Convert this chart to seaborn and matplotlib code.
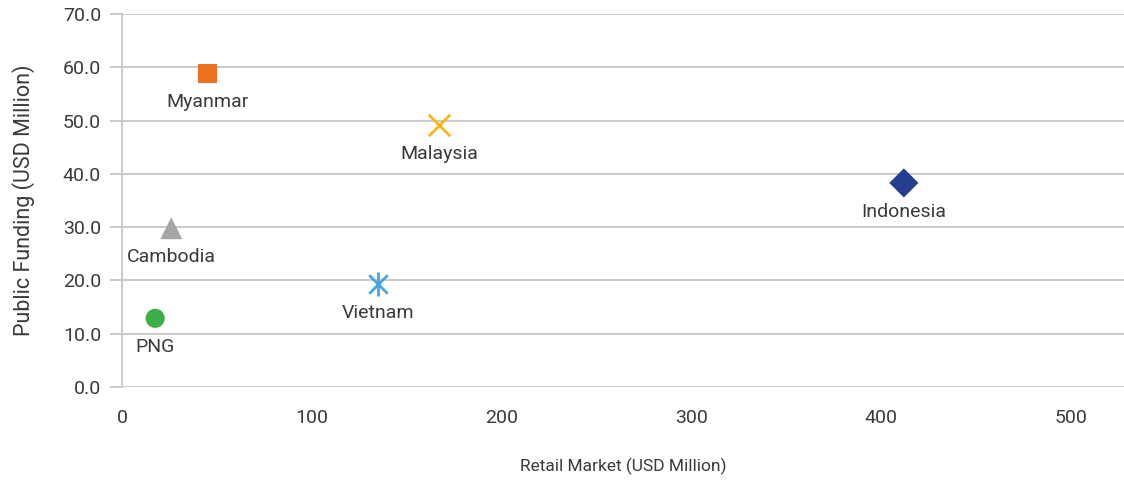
import matplotlib
matplotlib.use("Agg")
import matplotlib.pyplot as plt
from matplotlib.path import Path
import seaborn as sns
import pandas as pd

countries = ["Myanmar", "Malaysia", "Indonesia", "Cambodia", "Vietnam", "PNG"]
retail_market = [45, 167, 412, 26, 135, 17.5]
public_funding = [58.9, 49.2, 38.3, 29.8, 19.3, 12.9]
x_ticks = [0, 100, 200, 300, 400, 500]
y_ticks = [0, 10, 20, 30, 40, 50, 60, 70]

colors = {"Myanmar": "#F07022", "Malaysia": "#FDB515", "Indonesia": "#243F8F",
          "Cambodia": "#A6A6A6", "Vietnam": "#4BA3E0", "PNG": "#3CAE48"}
asterisk = Path([(-1, -1), (1, 1), (-1, 1), (1, -1), (0, -1.3), (0, 1.3)],
                [Path.MOVETO, Path.LINETO, Path.MOVETO, Path.LINETO, Path.MOVETO, Path.LINETO])
markers = {"Myanmar": "s", "Malaysia": "x", "Indonesia": "D",
           "Cambodia": "^", "Vietnam": asterisk, "PNG": "o"}
sizes = {"Myanmar": 190, "Malaysia": 240, "Indonesia": 220,
         "Cambodia": 250, "Vietnam": 300, "PNG": 190}

df = pd.DataFrame({"country": countries, "retail": retail_market, "funding": public_funding})

sns.set_theme(style="white")
plt.rcParams["font.family"] = ["Roboto", "DejaVu Sans"]

fig = plt.figure(figsize=(11.24, 4.82), dpi=100)
ax = fig.add_axes([0.1085, 0.197, 0.8915, 0.774])

for c in countries:
    sub = df[df.country == c]
    m = markers[c]
    lw = 2 if c in ("Malaysia", "Vietnam") else 0
    sns.scatterplot(data=sub, x="retail", y="funding", marker=m, s=sizes[c],
                    color=colors[c], edgecolor=colors[c] if lw else "none",
                    linewidth=lw, ax=ax, legend=False, zorder=3)

for c, x, y in zip(countries, retail_market, public_funding):
    ax.annotate(c, (x, y), xytext=(0, -21), textcoords="offset points",
                ha="center", va="center", fontsize=14, color="#3A3A3A")

ax.set_xlim(0, 528)
ax.set_ylim(0, 70)
ax.set_xticks(x_ticks)
ax.set_yticks(y_ticks)
ax.set_yticklabels([f"{v:.1f}" for v in y_ticks])
ax.yaxis.grid(True, color="#C6C6C6", linewidth=1.3)
ax.xaxis.grid(False)
ax.set_axisbelow(True)
for s in ["top", "right", "bottom"]:
    ax.spines[s].set_visible(False)
ax.spines["left"].set_color("#C6C6C6")
ax.spines["left"].set_linewidth(1.3)
ax.tick_params(axis="y", which="major", left=True, length=9, width=1.3,
               color="#C6C6C6", labelsize=14, labelcolor="#3A3A3A", pad=6)
ax.tick_params(axis="x", which="major", bottom=False, labelsize=14,
               labelcolor="#3A3A3A", pad=10)
ax.set_xlabel("Retail Market (USD Million)", fontsize=12.5, color="#3A3A3A", labelpad=22)
ax.set_ylabel("Public Funding (USD Million)", fontsize=15.5, color="#3A3A3A", labelpad=20)

fig.savefig("out.png", dpi=100)
